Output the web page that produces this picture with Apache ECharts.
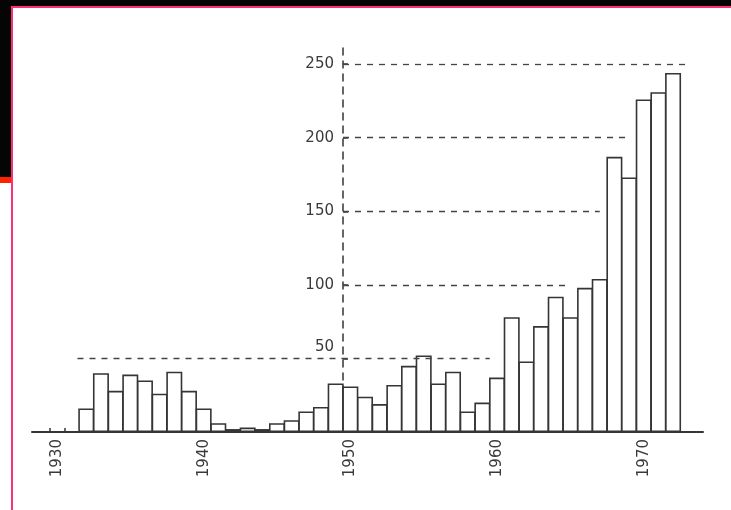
<!DOCTYPE html>
<html>
<head>
<meta charset="utf-8">
<script src="https://cdn.jsdelivr.net/npm/echarts@6/dist/echarts.min.js"></script>
<style>
  html, body { margin: 0; padding: 0; background: #fff; }
  #chart { width: 731px; height: 510px; }
</style>
</head>
<body>
<div id="chart"></div>
<script>
// yearly counts, 1932 - 1972
const years = [
  1932, 1933, 1934, 1935, 1936, 1937, 1938, 1939, 1940, 1941,
  1942, 1943, 1944, 1945, 1946, 1947, 1948, 1949, 1950, 1951,
  1952, 1953, 1954, 1955, 1956, 1957, 1958, 1959, 1960, 1961,
  1962, 1963, 1964, 1965, 1966, 1967, 1968, 1969, 1970, 1971, 1972
]
const counts = [
  16, 40, 28, 39, 35, 26, 41, 28, 16, 6,
  2, 3, 2, 6, 8, 14, 17, 33, 31, 24,
  19, 32, 45, 52, 33, 41, 14, 20, 37, 78,
  48, 72, 92, 78, 98, 104, 187, 173, 226, 231, 244
]
const yearLabels = [1930, 1940, 1950, 1960, 1970]
const valueLabels = [50, 100, 150, 200, 250]

const ink = '#353535'
const labelFont = '"DejaVu Sans", sans-serif'

// dashed guide lines: level, from year, to year
const guideLines = [
  [50, 1931.4, 1959.5],
  [100, 1949.5, 1965.0],
  [150, 1949.5, 1967.0],
  [200, 1949.5, 1968.9],
  [250, 1949.5, 1973.0],
]

const xMin = 1928.3
const xMax = 1974.04

const option = {
  backgroundColor: '#fff',
  animation: false,
  grid: {
    left: 32,
    right: 28,
    top: 48,
    bottom: 78,
  },
  xAxis: {
    type: 'value',
    min: xMin,
    max: xMax,
    splitLine: { show: false },
    axisLine: {
      lineStyle: { color: ink, width: 2 },
    },
    axisTick: {
      show: true,
      inside: true,
      length: 4,
      customValues: [1929.5, 1930.5],
      lineStyle: { color: ink, width: 1.5 },
    },
    axisLabel: {
      customValues: yearLabels,
      formatter: v => String(v),
      rotate: 90,
      margin: 7,
      color: '#3a3a3a',
      fontSize: 15,
      fontFamily: labelFont,
    },
  },
  yAxis: {
    type: 'value',
    min: 0,
    max: 261,
    position: 'left',
    offset: -311,
    splitLine: { show: false },
    axisLine: {
      show: true,
      lineStyle: { color: ink, width: 1.5, type: [7, 6] },
    },
    axisTick: {
      show: true,
      inside: true,
      length: 5,
      customValues: valueLabels,
      lineStyle: { color: ink, width: 1.5 },
    },
    axisLabel: {
      customValues: valueLabels,
      // the 50 label sits above its dashed line in the original
      formatter: v => (v === 50 ? '{up|50}' : String(v)),
      rich: {
        up: {
          color: '#3a3a3a',
          fontSize: 15,
          fontFamily: labelFont,
          padding: [0, 0, 22, 0],
        },
      },
      margin: 9,
      color: '#3a3a3a',
      fontSize: 15,
      fontFamily: labelFont,
    },
  },
  series: [
    {
      type: 'bar',
      barWidth: 16,
      data: years.map((y, i) => [y, counts[i]]),
      itemStyle: {
        color: '#fff',
        borderColor: ink,
        borderWidth: 1.6,
      },
      markLine: {
        silent: true,
        symbol: 'none',
        label: { show: false },
        lineStyle: { color: '#444', width: 1.3, type: [6, 6] },
        data: guideLines.map(g => [
          { coord: [g[1], g[0]] },
          { coord: [g[2], g[0]] },
        ]),
      },
    },
  ],
  // scan border left in the picture
  graphic: [
    { type: 'rect', shape: { x: 0, y: 0, width: 731, height: 6 }, style: { fill: '#050505' } },
    { type: 'rect', shape: { x: 0, y: 0, width: 11, height: 177 }, style: { fill: '#050505' } },
    { type: 'rect', shape: { x: 0, y: 177, width: 11, height: 6 }, style: { fill: '#ff2200' } },
    { type: 'rect', shape: { x: 11, y: 6, width: 720, height: 2 }, style: { fill: '#ff2d7a' } },
    { type: 'rect', shape: { x: 11, y: 6, width: 2, height: 504 }, style: { fill: '#ff2d7a' } },
  ],
}

const chart = echarts.init(document.getElementById('chart'))
chart.setOption(option)
</script>
</body>
</html>
